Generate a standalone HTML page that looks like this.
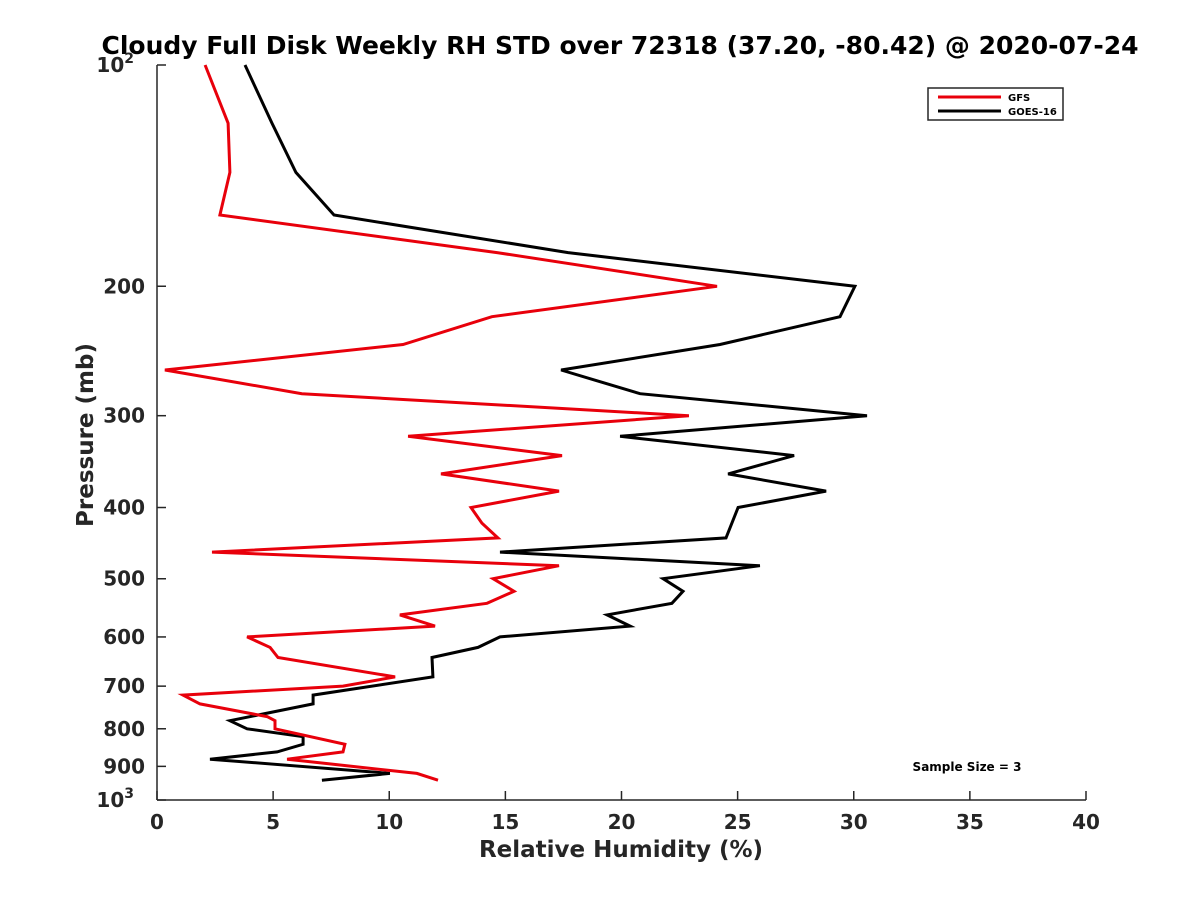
<!DOCTYPE html>
<html><head><meta charset="utf-8"><style>
body{margin:0;background:#fff}
svg{display:block;font-family:"DejaVu Sans","Liberation Sans",sans-serif}
</style></head><body>
<svg id="chart" width="1200" height="900" viewBox="0 0 1200 900" xmlns="http://www.w3.org/2000/svg">
<rect width="1200" height="900" fill="#fff"/>
<text x="620" y="54" text-anchor="middle" font-size="25" font-weight="bold" fill="#000">Cloudy Full Disk Weekly RH STD over 72318 (37.20, -80.42) @ 2020-07-24</text>
<g id="axes"></g>
<g id="series"></g>
<text x="621" y="857" text-anchor="middle" font-size="23" font-weight="bold" fill="#262626">Relative Humidity (%)</text>
<text transform="translate(93,435) rotate(-90)" text-anchor="middle" font-size="23" font-weight="bold" fill="#262626">Pressure (mb)</text>
<g>
<rect x="928" y="88" width="135" height="32" fill="#fff" stroke="#262626" stroke-width="1.5"/>
<line x1="938" y1="97" x2="1001" y2="97" stroke="#e8000b" stroke-width="3"/>
<text x="1008" y="101" font-size="10" font-weight="bold" fill="#000">GFS</text>
<line x1="938" y1="111" x2="1001" y2="111" stroke="#000" stroke-width="3"/>
<text x="1008" y="115" font-size="10" font-weight="bold" fill="#000">GOES-16</text>
</g>
<text x="967" y="771" text-anchor="middle" font-size="12" font-weight="bold" fill="#000">Sample Size = 3</text>
</svg>
<script>
const xTicks=[0,5,10,15,20,25,30,35,40];
const yTicks=[100,200,300,400,500,600,700,800,900,1000];
const gfsP=[100,120,140,160,180,200,220,240,260,280,300,320,340,360,380,400,420,440,460,480,500,520,540,560,580,600,620,640,680,700,720,740,770,780,800,840,860,880,920,940];
const gfsV=[2.07,3.06,3.14,2.71,14.64,24.11,14.42,10.59,0.34,6.24,22.9,10.81,17.44,12.23,17.31,13.52,13.99,14.68,2.37,17.31,14.47,15.37,14.21,10.46,11.97,3.88,4.87,5.21,10.25,8.01,1.12,1.85,4.74,5.08,5.08,8.09,8.01,5.60,11.19,12.10];
const goesP=[100,120,140,160,180,200,220,240,260,280,300,320,340,360,380,400,440,460,480,500,520,540,560,580,600,620,640,680,720,740,780,800,820,840,860,880,920,940];
const goesV=[3.79,4.95,5.98,7.62,17.70,30.05,29.41,24.24,17.40,20.80,30.57,19.94,27.43,24.59,28.81,25.02,24.50,14.77,25.96,21.79,22.65,22.17,19.38,20.37,14.77,13.82,11.84,11.88,6.72,6.72,3.14,3.88,6.29,6.29,5.17,2.28,10.03,7.10];
const X0=157,X1=1086,Y0=65,Y1=800;
const sx=v=>X0+(v-0)/40*(X1-X0);
const sy=p=>Y0+(Math.log10(p)-2)*(Y1-Y0);
const NS="http://www.w3.org/2000/svg";
const axes=document.getElementById('axes');
function mk(t,a,parent){const e=document.createElementNS(NS,t);for(const k in a)e.setAttribute(k,a[k]);parent.appendChild(e);return e;}
const xa=mk('line',{x1:X0,y1:Y1,x2:X1,y2:Y1,stroke:'#262626','stroke-width':1.5},axes);


const ya=mk('line',{x1:X0,y1:Y0,x2:X0,y2:Y1,stroke:'#262626','stroke-width':1.5},axes);


xTicks.forEach(v=>{
  const x=sx(v);
  mk('line',{x1:x,y1:Y1,x2:x,y2:Y1-9,stroke:'#262626','stroke-width':1.5},axes);
  const t=mk('text',{x:x,y:Y1+29,'text-anchor':'middle','font-size':20,'font-weight':'bold',fill:'#262626'},axes);
  t.textContent=v;
  
  
});
yTicks.forEach(p=>{
  const y=sy(p);
  mk('line',{x1:X0,y1:y,x2:X0+9,y2:y,stroke:'#262626','stroke-width':1.5},axes);
  const t=mk('text',{x:X0-12,y:y+7,'text-anchor':'end','font-size':20,'font-weight':'bold',fill:'#262626'},axes);
  if(p===100||p===1000){
    t.setAttribute('x',X0-23);
    t.textContent='10';
    const s=mk('tspan',{dy:-9,'font-size':14},t);s.textContent=p===100?'2':'3';
  } else t.textContent=p;
  
  
});
const sg=document.getElementById('series');
function line(P,V,col,name){
  const pts=P.map((p,i)=>sx(V[i]).toFixed(1)+','+sy(p).toFixed(1)).join(' ');
  const e=mk('polyline',{points:pts,fill:'none',stroke:col,'stroke-width':3,'stroke-linejoin':'miter'},sg);
  
  
}
line(goesP,goesV,'#000','goes16-line');
line(gfsP,gfsV,'#e8000b','gfs-line');
</script>
</body></html>
